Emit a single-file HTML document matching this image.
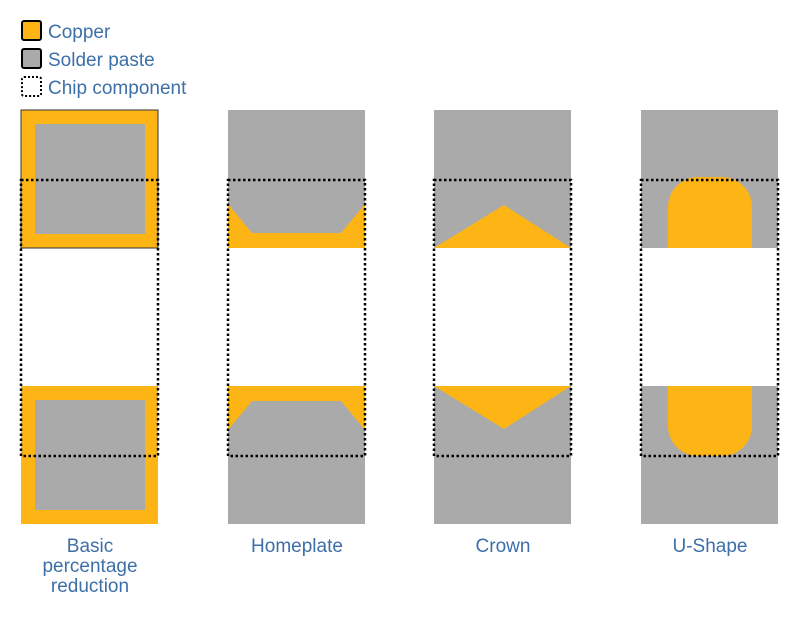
<!DOCTYPE html><html><head><style>body{margin:0;background:#fff}</style></head><body>
<svg width="800" height="614" xmlns="http://www.w3.org/2000/svg" font-family="Liberation Sans, sans-serif">
<g stroke="#000" stroke-width="2">
<rect x="22" y="21" width="19" height="19" rx="2" fill="#FDB515"/>
<rect x="22" y="49" width="19" height="19" rx="2" fill="#aaa"/>
<rect x="22" y="77" width="19" height="19" rx="2" fill="none" stroke-dasharray="2,2"/>
</g>
<g fill="#3d6fa8" font-size="19">
<text x="48" y="38">Copper</text><text x="48" y="66">Solder paste</text><text x="48" y="94">Chip component</text>
</g>
<rect x="21" y="110" width="137" height="138" fill="#FDB515" stroke="#333" stroke-width="1"/>
<rect x="35" y="124" width="110" height="110" fill="#aaa"/>
<rect x="21" y="386" width="137" height="138" fill="#FDB515"/>
<rect x="35" y="400" width="110" height="110" fill="#aaa"/>
<rect x="228" y="110" width="137" height="138" fill="#aaa"/>
<polygon points="228,204 252,233 341,233 365,204 365,248 228,248" fill="#FDB515"/>
<rect x="228" y="386" width="137" height="138" fill="#aaa"/>
<polygon points="228,430 252,401 341,401 365,430 365,386 228,386" fill="#FDB515"/>
<rect x="434" y="110" width="137" height="138" fill="#aaa"/>
<polygon points="434,248 504,205 571,248" fill="#FDB515"/>
<rect x="434" y="386" width="137" height="138" fill="#aaa"/>
<polygon points="434,386 504,429 571,386" fill="#FDB515"/>
<rect x="641" y="110" width="137" height="138" fill="#aaa"/>
<path d="M668,248 V207 A30,30 0 0 1 698,177 H722 A30,30 0 0 1 752,207 V248 Z" fill="#FDB515"/>
<rect x="641" y="386" width="137" height="138" fill="#aaa"/>
<path d="M668,386 V426 A30,30 0 0 0 698,456 H722 A30,30 0 0 0 752,426 V386 Z" fill="#FDB515"/>
<g fill="none" stroke="#000" stroke-width="2.5" stroke-dasharray="2.5,2.5">
<rect x="21" y="180" width="137" height="276"/>
<rect x="228" y="180" width="137" height="276"/>
<rect x="434" y="180" width="137" height="276"/>
<rect x="641" y="180" width="137" height="276"/>
</g>
<g fill="#3d6fa8" font-size="19" text-anchor="middle">
<text x="90" y="552">Basic</text><text x="90" y="572">percentage</text><text x="90" y="592">reduction</text>
<text x="297" y="552">Homeplate</text><text x="503" y="552">Crown</text><text x="710" y="552">U-Shape</text>
</g>
</svg>
</body></html>
